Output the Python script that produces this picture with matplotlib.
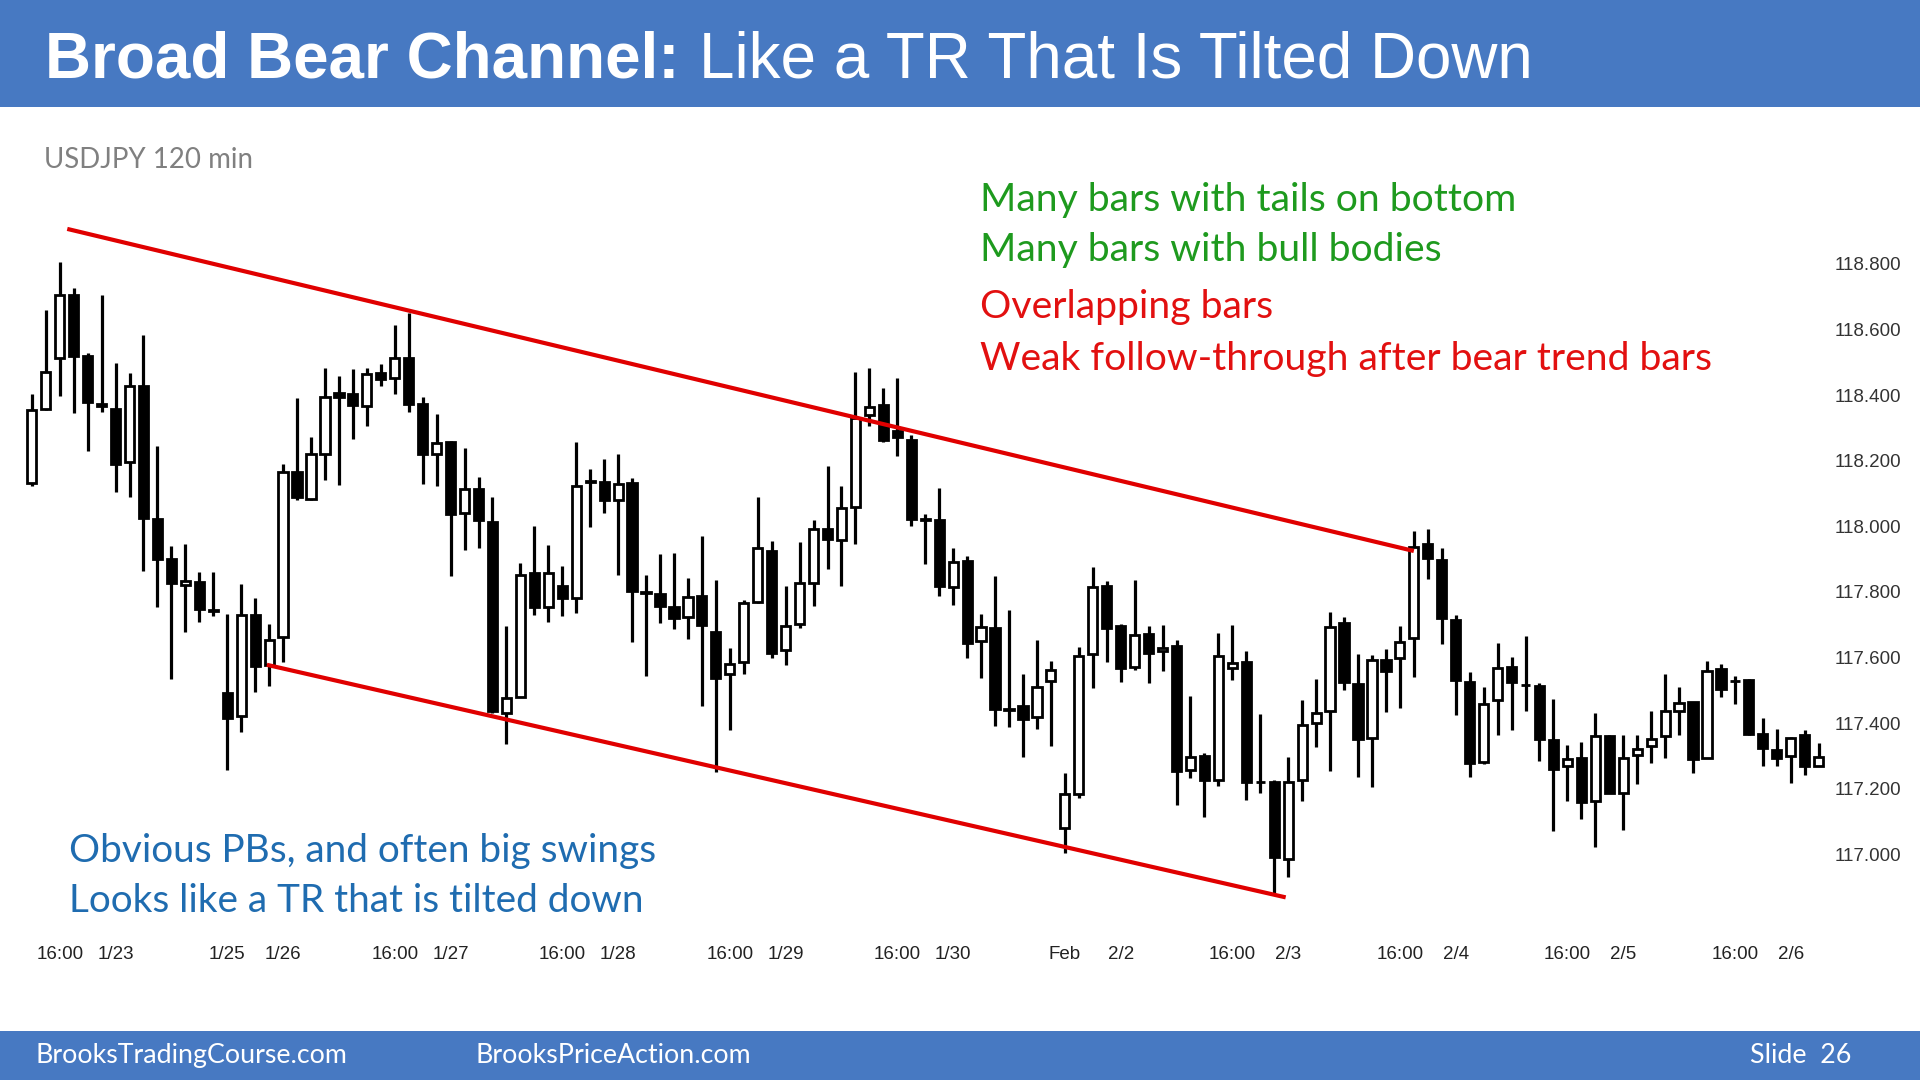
import matplotlib
matplotlib.use('Agg')
import matplotlib.pyplot as plt
from matplotlib.patches import Rectangle

# ---------------- data (USDJPY 120 min bars) ----------------
opens = [118.133, 118.359, 118.514, 118.704, 118.519, 118.373, 118.359, 118.196, 118.429, 118.024,
         117.902, 117.822, 117.831, 117.745, 117.492, 117.422, 117.730, 117.577, 117.662, 118.165,
         118.084, 118.222, 118.407, 118.403, 118.367, 118.467, 118.451, 118.514, 118.372, 118.220,
         118.256, 118.040, 118.113, 118.013, 117.430, 117.481, 117.858, 117.754, 117.819, 117.782,
         118.135, 118.135, 118.081, 118.133, 117.800, 117.793, 117.754, 117.724, 117.787, 117.679,
         117.550, 117.586, 117.770, 117.926, 117.623, 117.703, 117.828, 117.993, 117.958, 118.059,
         118.339, 118.369, 118.290, 118.263, 118.023, 118.018, 117.815, 117.893, 117.652, 117.689,
         117.443, 117.453, 117.418, 117.529, 117.080, 117.185, 117.611, 117.817, 117.695, 117.572,
         117.671, 117.621, 117.636, 117.257, 117.299, 117.226, 117.568, 117.587, 117.222, 117.222,
         116.987, 117.226, 117.401, 117.436, 117.704, 117.520, 117.354, 117.593, 117.599, 117.659,
         117.945, 117.898, 117.715, 117.527, 117.281, 117.471, 117.572, 117.517, 117.513, 117.349,
         117.270, 117.293, 117.164, 117.362, 117.186, 117.303, 117.331, 117.361, 117.438, 117.466,
         117.295, 117.565, 117.530, 117.532, 117.366, 117.318, 117.300, 117.364, 117.270]
highs = [118.405, 118.659, 118.806, 118.728, 118.529, 118.704, 118.497, 118.467, 118.584, 118.245,
         117.940, 117.945, 117.860, 117.860, 117.732, 117.824, 117.782, 117.702, 118.189, 118.391,
         118.272, 118.483, 118.459, 118.479, 118.483, 118.494, 118.615, 118.650, 118.396, 118.342,
         118.260, 118.238, 118.152, 118.091, 117.697, 117.888, 118.000, 117.942, 117.879, 118.256,
         118.176, 118.207, 118.222, 118.149, 117.852, 117.915, 117.918, 117.844, 117.972, 117.836,
         117.630, 117.775, 118.089, 117.956, 117.817, 117.953, 118.018, 118.184, 118.122, 118.470,
         118.483, 118.421, 118.452, 118.280, 118.037, 118.116, 117.934, 117.911, 117.733, 117.848,
         117.745, 117.549, 117.654, 117.591, 117.247, 117.632, 117.876, 117.835, 117.701, 117.838,
         117.695, 117.698, 117.654, 117.482, 117.310, 117.675, 117.698, 117.619, 117.428, 117.226,
         117.296, 117.471, 117.535, 117.739, 117.724, 117.611, 117.607, 117.626, 117.695, 117.987,
         117.991, 117.933, 117.730, 117.557, 117.509, 117.646, 117.603, 117.666, 117.522, 117.474,
         117.334, 117.344, 117.430, 117.364, 117.364, 117.364, 117.438, 117.549, 117.511, 117.466,
         117.591, 117.580, 117.544, 117.535, 117.415, 117.382, 117.359, 117.379, 117.341]
lows = [118.122, 118.356, 118.399, 118.345, 118.231, 118.350, 118.105, 118.091, 117.863, 117.755,
        117.536, 117.679, 117.710, 117.726, 117.258, 117.373, 117.496, 117.512, 117.586, 118.080,
        118.080, 118.141, 118.125, 118.267, 118.305, 118.427, 118.403, 118.350, 118.130, 118.122,
        117.849, 117.928, 117.933, 117.430, 117.338, 117.481, 117.730, 117.710, 117.726, 117.737,
        117.999, 118.040, 117.853, 117.648, 117.545, 117.706, 117.688, 117.657, 117.452, 117.251,
        117.379, 117.550, 117.766, 117.599, 117.577, 117.689, 117.757, 117.869, 117.819, 117.947,
        118.307, 118.258, 118.216, 118.000, 117.885, 117.787, 117.760, 117.599, 117.538, 117.391,
        117.387, 117.298, 117.383, 117.331, 117.004, 117.173, 117.506, 117.587, 117.527, 117.561,
        117.523, 117.558, 117.150, 117.232, 117.115, 117.208, 117.531, 117.165, 117.188, 116.882,
        116.931, 117.162, 117.328, 117.255, 117.500, 117.237, 117.206, 117.433, 117.447, 117.542,
        117.839, 117.641, 117.425, 117.237, 117.276, 117.364, 117.379, 117.438, 117.286, 117.071,
        117.164, 117.107, 117.022, 117.186, 117.074, 117.215, 117.278, 117.293, 117.364, 117.247,
        117.295, 117.481, 117.458, 117.364, 117.270, 117.268, 117.217, 117.242, 117.268]
closes = [118.356, 118.470, 118.704, 118.519, 118.378, 118.368, 118.189, 118.427, 118.026, 117.902,
          117.828, 117.833, 117.749, 117.743, 117.416, 117.730, 117.574, 117.653, 118.165, 118.091,
          118.220, 118.396, 118.396, 118.369, 118.465, 118.448, 118.512, 118.372, 118.222, 118.255,
          118.037, 118.113, 118.018, 117.436, 117.477, 117.853, 117.754, 117.858, 117.782, 118.122,
          118.137, 118.080, 118.129, 117.804, 117.797, 117.757, 117.722, 117.786, 117.699, 117.539,
          117.579, 117.765, 117.933, 117.615, 117.697, 117.828, 117.991, 117.961, 118.056, 118.332,
          118.365, 118.263, 118.272, 118.022, 118.020, 117.817, 117.891, 117.643, 117.692, 117.442,
          117.441, 117.412, 117.509, 117.562, 117.183, 117.605, 117.815, 117.690, 117.568, 117.669,
          117.614, 117.628, 117.255, 117.296, 117.226, 117.605, 117.584, 117.220, 117.220, 116.992,
          117.222, 117.395, 117.430, 117.692, 117.527, 117.352, 117.593, 117.558, 117.649, 117.938,
          117.903, 117.720, 117.532, 117.278, 117.459, 117.567, 117.525, 117.515, 117.351, 117.259,
          117.291, 117.161, 117.362, 117.188, 117.293, 117.320, 117.351, 117.437, 117.461, 117.290,
          117.560, 117.504, 117.528, 117.366, 117.323, 117.295, 117.354, 117.270, 117.296]

# x-axis labels (bar index -> label)
xtick_pos = [2, 6, 14, 18, 26, 30, 38, 42, 50, 54, 62, 66, 74, 78, 86, 90, 98, 102, 110, 114, 122, 126]
xtick_labels = ['16:00', '1/23', '1/25', '1/26', '16:00', '1/27', '16:00', '1/28', '16:00', '1/29',
                '16:00', '1/30', 'Feb', '2/2', '16:00', '2/3', '16:00', '2/4', '16:00', '2/5',
                '16:00', '2/6']
ytick_values = [117.0, 117.2, 117.4, 117.6, 117.8, 118.0, 118.2, 118.4, 118.6, 118.8]

# channel lines (bar index, price)
upper_x = [2.54, 99.0]
upper_y = [118.907, 117.925]
lower_x = [16.84, 89.82]
lower_y = [117.578, 116.869]

# ---------------- figure ----------------
W, H = 1920, 1080
fig = plt.figure(figsize=(19.2, 10.8), dpi=100)
fig.patch.set_facecolor('white')
renderer = fig.canvas.get_renderer()

BLUE_BAND = '#4779C2'


def fx(px):
    return px / W


def fy(py):
    return 1 - py / H


# header and footer bands
fig.patches.append(Rectangle((0, fy(107)), 1, 107 / H, transform=fig.transFigure,
                             facecolor=BLUE_BAND, edgecolor='none', zorder=0))
fig.patches.append(Rectangle((0, 0), 1, (H - 1031) / H, transform=fig.transFigure,
                             facecolor=BLUE_BAND, edgecolor='none', zorder=0))


def fit_text(x, y, s, width_px, **kw):
    t = fig.text(fx(x), fy(y), s, **kw)
    for _ in range(3):
        bb = t.get_window_extent(renderer)
        t.set_fontsize(t.get_fontsize() * width_px / bb.width)
    return t


# title
tb = fit_text(45, 77, 'Broad Bear Channel:', 635, color='white', fontsize=40,
              fontweight='bold', family='Liberation Sans', va='baseline', ha='left')
fig.text(fx(699), fy(77), 'Like a TR That Is Tilted Down', color='white',
         fontsize=tb.get_fontsize(), family='Liberation Sans', va='baseline', ha='left')

# subtitle
fit_text(44, 168, 'USDJPY 120 min', 209, color='#808080', fontsize=20,
         family='Lato', va='baseline', ha='left')

# annotations
GREEN = '#1E9A1E'
RED = '#E21010'
TBLUE = '#1F6CB0'
tw = fit_text(980, 370, 'Weak follow-through after bear trend bars', 732, color=RED,
              fontsize=28, family='Lato', va='baseline', ha='left')
fsz = tw.get_fontsize()
fig.text(fx(980), fy(318), 'Overlapping bars', color=RED, fontsize=fsz,
         family='Lato', va='baseline', ha='left')
fig.text(fx(980), fy(211), 'Many bars with tails on bottom', color=GREEN, fontsize=fsz,
         family='Lato', va='baseline', ha='left')
fig.text(fx(980), fy(261), 'Many bars with bull bodies', color=GREEN, fontsize=fsz,
         family='Lato', va='baseline', ha='left')

ob = fit_text(69, 862, 'Obvious PBs, and often big swings', 586, color=TBLUE,
              fontsize=28, family='Lato', va='baseline', ha='left')
fig.text(fx(69), fy(912), 'Looks like a TR that is tilted down', color=TBLUE,
         fontsize=ob.get_fontsize(), family='Lato', va='baseline', ha='left')

# footer
fb = fit_text(36, 1063, 'BrooksTradingCourse.com', 311, color='white', fontsize=20,
              family='Lato', va='baseline', ha='left')
fig.text(fx(475), fy(1063), 'BrooksPriceAction.com', color='white', fontsize=fb.get_fontsize(),
         family='Lato', va='baseline', ha='left')
fig.text(fx(1851), fy(1063), 'Slide  26', color='white', fontsize=fb.get_fontsize(),
         family='Lato', va='baseline', ha='right')

# ---------------- chart axes ----------------
L, R, T, B = 20, 1828, 180, 935
x0, dx = 31.8, 13.96          # pixel of bar 0, pixels per bar
p0, dp = 118.8, 328.0         # 118.8 at y=264, pixels per price unit
ax = fig.add_axes([fx(L), fy(B), (R - L) / W, (B - T) / H])
ax.set_xlim((L - x0) / dx, (R - x0) / dx)
ax.set_ylim(p0 - (B - 264) / dp, p0 + (264 - T) / dp)
ax.patch.set_alpha(0)
for s in ax.spines.values():
    s.set_visible(False)

n = len(opens)
idx = list(range(n))
ax.vlines(idx, lows, highs, color='black', linewidth=2.3, zorder=2)
bw = 0.66
for i in idx:
    o, c = opens[i], closes[i]
    bottom = min(o, c)
    h = max(abs(c - o), 0.002)
    bull = c >= o
    ax.add_patch(Rectangle((i - bw / 2, bottom), bw, h,
                           facecolor='white' if bull else 'black',
                           edgecolor='black', linewidth=2.0, zorder=3))

ax.plot(upper_x, upper_y, color='#E00000', linewidth=3.0, zorder=4, solid_capstyle='butt')
ax.plot(lower_x, lower_y, color='#E00000', linewidth=3.0, zorder=4, solid_capstyle='butt')

ax.yaxis.tick_right()
ax.set_yticks(ytick_values)
ax.set_yticklabels([f'{v:.3f}' for v in ytick_values])
ax.tick_params(axis='y', length=0, pad=5, labelsize=13.5, labelcolor='#333333')
for lab in ax.get_yticklabels():
    lab.set_family('Liberation Sans')

ax.set_xticks(xtick_pos)
ax.set_xticklabels(xtick_labels)
ax.tick_params(axis='x', length=0, pad=8, labelsize=13.5, labelcolor='#222222')
for lab in ax.get_xticklabels():
    lab.set_family('Liberation Sans')

fig.savefig('out.png', dpi=100, facecolor='white')
